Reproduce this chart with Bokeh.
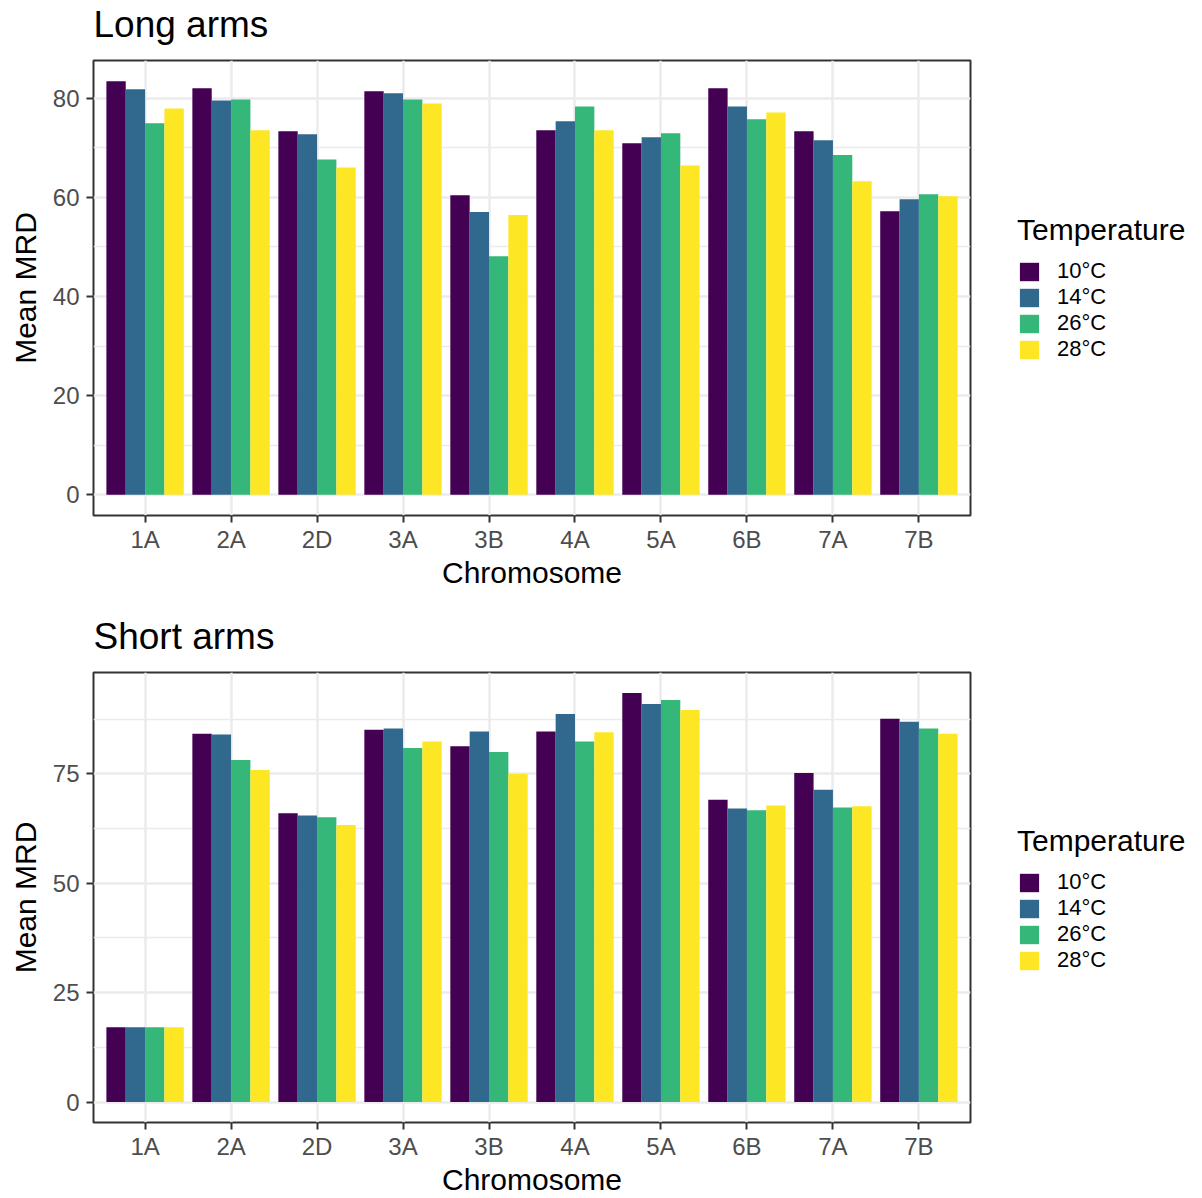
from bokeh.plotting import figure
from bokeh.models import (FactorRange, Range1d, FixedTicker, Legend, LegendItem,
                          ColumnDataSource, Label)
from bokeh.transform import dodge
from bokeh.layouts import column, row
from bokeh.embed import file_html
from bokeh.resources import INLINE

chromosomes = ["1A", "2A", "2D", "3A", "3B", "4A", "5A", "6B", "7A", "7B"]
temperatures = ["10°C", "14°C", "26°C", "28°C"]
colors = ["#440154", "#31688E", "#35B779", "#FDE725"]

long_10 = [83.4, 81.95, 73.3, 81.35, 60.4, 73.5, 70.9, 81.95, 73.3, 57.2]
long_14 = [81.75, 79.5, 72.7, 80.95, 57.0, 75.3, 72.1, 78.3, 71.5, 59.6]
long_26 = [74.9, 79.7, 67.6, 79.7, 48.1, 78.3, 72.9, 75.7, 68.5, 60.6]
long_28 = [77.9, 73.5, 66.0, 78.9, 56.4, 73.5, 66.4, 77.1, 63.2, 60.2]

short_10 = [17.1, 84.2, 66.0, 85.1, 81.3, 84.7, 93.5, 69.1, 75.2, 87.6]
short_14 = [17.1, 84.0, 65.5, 85.4, 84.7, 88.7, 91.0, 67.1, 71.4, 86.9]
short_26 = [17.1, 78.2, 65.1, 80.9, 80.0, 82.4, 91.9, 66.7, 67.3, 85.4]
short_28 = [17.1, 75.9, 63.3, 82.4, 75.0, 84.5, 89.6, 67.8, 67.6, 84.2]

long_ticks = [0, 20, 40, 60, 80]
long_minor = [10, 30, 50, 70]
short_ticks = [0, 25, 50, 75]
short_minor = [12.5, 37.5, 62.5, 87.5]

FONT = "Liberation Sans"
BAR_W = 0.9 / 4
OFFSETS = [(-1.5 + i) * BAR_W for i in range(4)]
MAIN_W = 972
LEG_W = 230


def make_source(series):
    data = {"chrom": chromosomes}
    for t, s in zip(temperatures, series):
        data[t] = s
    return ColumnDataSource(data)


def make_title(text, height, baseline_from_bottom):
    tf = figure(width=MAIN_W, height=height, x_range=Range1d(0, 1),
                y_range=Range1d(0, 1), output_backend="svg",
                toolbar_location=None, x_axis_location=None,
                y_axis_location=None, min_border_left=93, min_border_right=2,
                min_border_top=0, min_border_bottom=0)
    tf.outline_line_color = None
    tf.grid.visible = False
    tf.background_fill_color = "white"
    tf.border_fill_color = "white"
    tf.add_layout(Label(x=0, y=baseline_from_bottom, x_units="screen",
                        y_units="screen", text=text, text_font=FONT,
                        text_font_size="37px", text_color="black",
                        text_align="left", text_baseline="alphabetic"))
    return tf


def make_panel(src, ymax, ticks, minor, height, border_top, border_bottom):
    p = figure(width=MAIN_W, height=height,
               x_range=FactorRange(factors=chromosomes, range_padding=0.1,
                                   range_padding_units="absolute"),
               y_range=Range1d(-0.05 * ymax, 1.05 * ymax),
               output_backend="svg", toolbar_location=None,
               min_border_left=93, min_border_right=2,
               min_border_top=border_top, min_border_bottom=border_bottom)

    p.background_fill_color = "white"
    p.border_fill_color = "white"
    p.outline_line_color = "#333333"
    p.outline_line_width = 2

    for t, off, c in zip(temperatures, OFFSETS, colors):
        p.vbar(x=dodge("chrom", off, range=p.x_range), top=t, bottom=0,
               width=BAR_W, source=src, fill_color=c, line_color=None)

    p.yaxis.ticker = FixedTicker(ticks=ticks, minor_ticks=minor)

    for ax in (p.xaxis[0], p.yaxis[0]):
        ax.axis_line_color = None
        ax.major_tick_line_color = "#333333"
        ax.major_tick_line_width = 2
        ax.major_tick_out = 7
        ax.major_tick_in = 0
        ax.minor_tick_line_color = None
        ax.major_label_text_font = FONT
        ax.major_label_text_font_size = "24px"
        ax.major_label_text_color = "#4D4D4D"
        ax.axis_label_text_font = FONT
        ax.axis_label_text_font_size = "30px"
        ax.axis_label_text_font_style = "normal"
        ax.axis_label_text_color = "black"

    p.xaxis.axis_label = "Chromosome"
    p.xaxis.axis_label_standoff = 0
    p.xaxis.major_label_standoff = 3
    p.yaxis.axis_label = "Mean MRD"
    p.yaxis.axis_label_standoff = 8
    p.yaxis.major_label_standoff = 7

    p.xgrid.grid_line_color = "#EBEBEB"
    p.xgrid.grid_line_width = 2.5
    p.ygrid.grid_line_color = "#EBEBEB"
    p.ygrid.grid_line_width = 2.5
    p.ygrid.minor_grid_line_color = "#EBEBEB"
    p.ygrid.minor_grid_line_width = 1.3
    return p


def make_legend(src, height, y_loc):
    # separate legend area; its zero-width bars draw nothing
    lf = figure(width=LEG_W, height=height,
                x_range=FactorRange(factors=chromosomes),
                y_range=Range1d(-2, -1), output_backend="svg",
                toolbar_location=None, x_axis_location=None,
                y_axis_location=None, min_border=0)
    lf.outline_line_color = None
    lf.grid.visible = False
    lf.background_fill_color = "white"
    lf.border_fill_color = "white"
    items = []
    for t, c in zip(temperatures, colors):
        r = lf.vbar(x="chrom", top=t, bottom=0, width=0, source=src,
                    fill_color=c, line_color=None)
        items.append(LegendItem(label=t, renderers=[r]))
    legend = Legend(items=items, location=(45, y_loc),
                    title="Temperature",
                    title_text_font=FONT, title_text_font_size="30px",
                    title_text_font_style="normal", title_text_color="black",
                    title_standoff=11,
                    label_text_font=FONT, label_text_font_size="22px",
                    label_text_color="black",
                    glyph_width=24, glyph_height=23, label_height=23,
                    label_standoff=16, spacing=0, padding=0, margin=0,
                    border_line_color=None, background_fill_alpha=0)
    lf.add_layout(legend)
    return lf


T1, T2 = 50, 56
H1, H2 = 606 - T1, 592 - T2
src_long = make_source([long_10, long_14, long_26, long_28])
src_short = make_source([short_10, short_14, short_26, short_28])
ymax_long = max(long_10 + long_14 + long_26 + long_28)
ymax_short = max(short_10 + short_14 + short_26 + short_28)

t1 = make_title("Long arms", T1, 26)
t2 = make_title("Short arms", T2, 26)
p1 = make_panel(src_long, ymax_long, long_ticks, long_minor, H1, 60 - T1, 91)
p2 = make_panel(src_short, ymax_short, short_ticks, short_minor, H2, 66 - T2, 70)
l1 = make_legend(src_long, H1, 153)
l2 = make_legend(src_short, H2, 149)

layout = column(t1, row(p1, l1), t2, row(p2, l2))
open("out.html", "w").write(file_html(layout, INLINE))
